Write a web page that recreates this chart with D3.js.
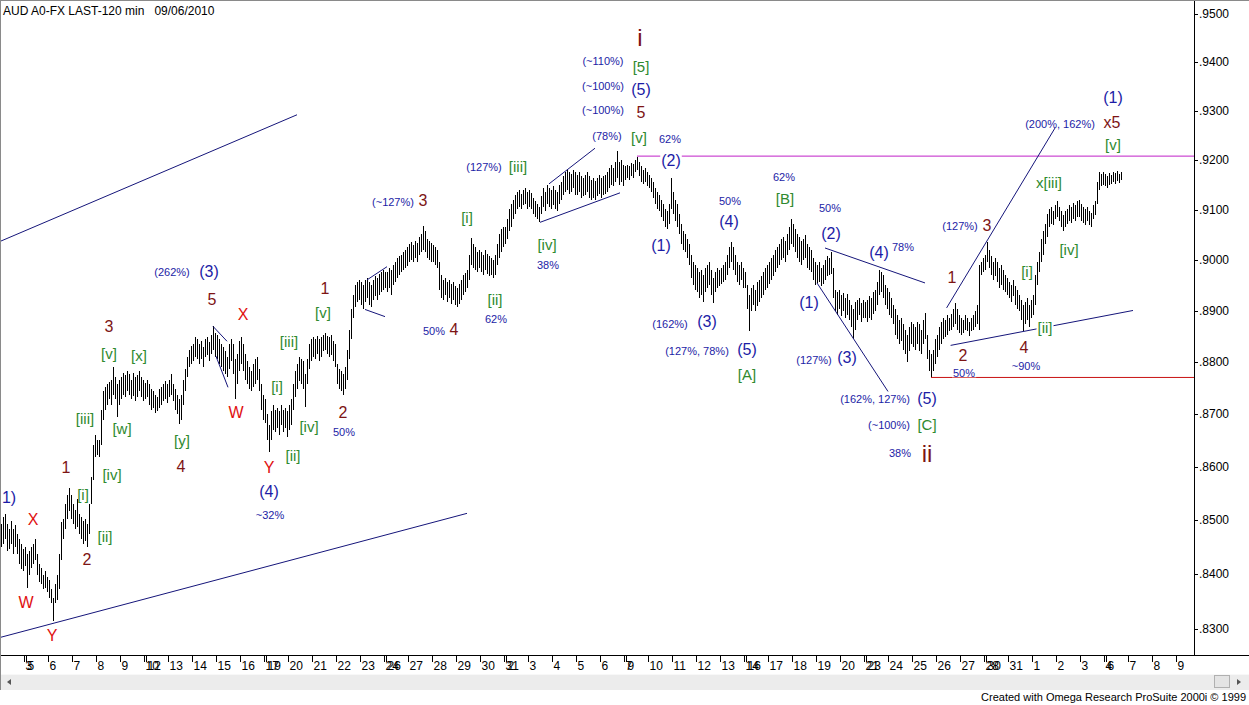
<!DOCTYPE html>
<html><head><meta charset="utf-8">
<script src="https://cdn.jsdelivr.net/npm/d3@7"></script>
<style>
body{margin:0;background:#fff;}
svg{display:block;font-family:"Liberation Sans",Arial,sans-serif;}
</style>
</head><body>
<svg id="c" width="1249" height="705"></svg>
<script>
// ---------- DATA (prices in pips, 1e-4) ----------
const title = "AUD A0-FX LAST-120 min   09/06/2010";
const footer = "Created with Omega Research ProSuite 2000i \u00A9 1999";

// 120-min bar highs, one per bar (Jul 2 .. Sep 6 2010)
const highs = [
8493,8506,8511,8493,8483,8498,8483,8491,8474,8465,8455,8446,
8450,
8437,8442,8450,8455,8466,8437,8418,8412,8399,8405,8394,
8390,8372,8357,8381,8399,8437,8496,8502,8530,8548,8560,8548,
8530,8520,8539,8511,8506,8498,8502,8493,8530,8582,8642,8661,
8651,8651,8709,8745,8752,8758,8762,8767,8791,8771,8758,8767,
8771,8779,8775,8783,8777,8767,8779,8771,8775,8783,8771,8767,
8760,
8767,8758,8748,8745,8738,8733,8748,8752,8758,8764,8758,
8767,8777,8758,8748,8738,8729,8738,8767,8787,8810,8825,8831,
8835,8850,8845,8835,8841,8829,8845,8849,8839,8854,8870,8858,
8854,8845,8835,8829,8822,8810,8835,8845,8835,8806,8816,8841,
8849,8835,8816,8802,8791,8783,8796,8806,8810,8787,8758,8738,
8729,
8700,8680,8706,8719,8709,8713,8706,8719,8709,8713,8706,
8719,8729,8758,8783,8796,8810,8806,8802,8777,8806,8835,8845,
8849,8845,8852,8845,8849,8854,8858,8852,8849,8854,8841,8835,
8796,8787,8783,8777,8791,8825,8863,8903,8931,8951,8957,8961,
8957,8951,8961,8965,8957,8951,8961,8969,8965,8973,8977,8981,
8977,
8977,8985,8981,8991,8997,9005,9009,9011,9017,9021,9025,
9031,9035,9029,9037,9033,9045,9051,9067,9057,9041,9037,9033,
9029,9025,9021,8997,8971,8961,8965,8957,8961,8953,8957,8949,
8945,8953,8961,8971,8975,8981,9011,9043,9031,9025,9017,9021,
9017,9011,9021,9013,9009,9005,9001,9011,9031,9051,9061,9065,
9065,
9081,9101,9111,9120,9130,9136,9140,9132,9140,9144,9136,
9140,9134,9124,9117,9111,9105,9128,9144,9136,9150,9144,9140,
9148,9140,9136,9150,9156,9168,9176,9180,9176,9172,9180,9176,
9170,9176,9168,9164,9170,9176,9168,9160,9164,9158,9164,9170,
9164,9168,9170,9176,9184,9190,9184,9196,9218,9196,9200,9190,
9188,
9190,9188,9194,9192,9200,9206,9196,9188,9180,9184,9176,
9170,9164,9156,9144,9136,9130,9120,9111,9101,9097,9111,9164,
9136,9120,9111,9091,9071,9057,9051,9041,9031,9011,8997,8991,
8985,8977,8981,8971,8985,8991,8997,8981,8965,8977,8985,8981,
8985,8991,8997,9011,9025,9035,9025,9011,8997,8991,8997,8985,
8977,
8951,8931,8945,8951,8941,8957,8961,8969,8977,8985,8991,
8997,9005,9011,9021,9025,9031,9041,9045,9037,9051,9065,9081,
9071,9061,9051,9045,9037,9041,9049,9031,9025,9021,9005,8997,
8991,8997,8985,8991,9001,9009,9005,9017,8985,8941,8937,8941,
8931,8935,8925,8933,8922,8912,8903,8918,8922,8925,8916,8922,
8918,
8922,8929,8925,8937,8941,8957,8981,8977,8971,8951,8945,
8937,8925,8912,8903,8893,8883,8887,8874,8863,8854,8868,8879,
8874,8868,8879,8874,8863,8883,8897,8854,8825,8816,8825,8845,
8854,8868,8879,8887,8883,8893,8887,8895,8903,8916,8903,8893,
8887,8883,8893,8887,8879,8887,8893,8899,8912,8991,8997,9005,
9011,
9035,9021,9009,8997,9005,8997,8985,8991,8981,8971,8965,
8957,8951,8961,8949,8941,8931,8922,8912,8918,8925,8912,8922,
8931,8971,8997,9017,9041,9057,9071,9091,9101,9105,9097,9109,
9117,9105,9097,9089,9097,9101,9109,9105,9113,9109,9117,9120,
9111,9105,9101,9105,9097,9093,9109,9117,9156,9176,9172,9176,
9172,
9168,9174,9170,9176,9174,9178,9172,9176
];

// 120-min bar lows, one per bar
const lows = [
8450,8455,8465,8442,8446,8455,8437,8450,8437,8418,8409,8405,
8416,
8375,8399,8412,8418,8427,8399,8386,8381,8372,8375,8368,
8357,8347,8314,8347,8353,8372,8427,8465,8483,8502,8517,8502,
8493,8483,8487,8474,8465,8455,8461,8450,8474,8530,8576,8619,
8623,8619,8642,8690,8709,8719,8729,8719,8738,8729,8696,8719,
8729,8738,8733,8745,8738,8729,8736,8725,8733,8745,8733,8725,
8729,
8733,8719,8709,8713,8702,8706,8713,8719,8725,8729,8721,
8733,8738,8725,8709,8700,8682,8690,8719,8745,8771,8791,8796,
8802,8810,8806,8796,8806,8791,8810,8814,8802,8816,8825,8810,
8806,8796,8791,8783,8777,8771,8787,8802,8777,8729,8758,8783,
8796,8783,8767,8758,8748,8745,8752,8758,8767,8745,8709,8690,
8684,
8651,8628,8651,8671,8667,8675,8661,8680,8667,8675,8657,
8671,8680,8709,8733,8748,8764,8758,8748,8715,8758,8787,8802,
8810,8806,8816,8802,8810,8822,8825,8816,8810,8814,8802,8791,
8758,8748,8745,8738,8748,8767,8806,8845,8887,8907,8918,8922,
8912,8903,8918,8925,8912,8907,8922,8929,8922,8931,8937,8941,
8945,
8937,8945,8931,8951,8957,8965,8971,8977,8981,8985,8989,
8997,9001,8997,9005,8997,9011,9017,9021,9017,9005,9001,8997,
8997,8991,8985,8941,8925,8922,8931,8918,8925,8914,8922,8912,
8907,8914,8922,8931,8937,8945,8961,8991,8985,8981,8977,8985,
8977,8971,8981,8973,8969,8971,8965,8971,8991,9005,9017,9025,
9031,
9041,9057,9065,9081,9091,9101,9105,9101,9109,9111,9101,
9105,9101,9091,9085,9081,9075,9091,9105,9097,9111,9105,9101,
9109,9101,9097,9111,9120,9130,9136,9140,9132,9136,9144,9130,
9130,9136,9124,9128,9130,9136,9124,9120,9124,9120,9128,9132,
9124,9130,9132,9136,9144,9150,9148,9156,9164,9150,9156,9148,
9160,
9164,9160,9168,9164,9176,9180,9168,9156,9152,9156,9148,
9144,9136,9124,9111,9101,9097,9085,9077,9065,9061,9071,9101,
9091,9077,9065,9051,9031,9021,9017,9005,8991,8965,8951,8941,
8937,8925,8931,8918,8937,8945,8951,8931,8916,8937,8945,8949,
8953,8957,8961,8971,8985,8997,8981,8971,8957,8951,8961,8945,
8945,
8903,8860,8899,8912,8899,8910,8918,8925,8931,8941,8945,
8953,8961,8969,8977,8985,8991,9001,9005,8997,9011,9021,9031,
9025,9017,9005,8997,8991,9001,9005,8985,8981,8977,8961,8951,
8955,8957,8949,8953,8961,8969,8971,8973,8925,8899,8893,8903,
8891,8899,8887,8893,8883,8868,8845,8863,8883,8893,8879,8887,
8887,
8879,8887,8883,8895,8899,8912,8931,8937,8925,8912,8903,
8893,8887,8874,8854,8845,8835,8841,8825,8816,8800,8822,8835,
8829,8825,8835,8822,8816,8835,8845,8806,8783,8771,8783,8796,
8810,8825,8835,8845,8849,8854,8860,8863,8868,8874,8863,8858,
8854,8858,8863,8860,8852,8860,8863,8868,8874,8863,8971,8977,
8981,
8997,8985,8971,8961,8969,8957,8945,8951,8941,8937,8931,
8925,8918,8929,8912,8903,8899,8883,8860,8874,8883,8868,8887,
8893,8912,8951,8977,8997,9011,9031,9045,9065,9071,9069,9081,
9085,9077,9065,9057,9065,9071,9077,9073,9081,9077,9085,9085,
9077,9073,9069,9077,9069,9065,9081,9089,9111,9140,9148,9150,
9148,
9144,9150,9152,9156,9152,9158,9154,9160
];

// x-axis day ticks: first bar index of each day, and its label
const tickBars = [12,13,24,36,48,60, 72,73,84,96,108,120, 132,133,144,156,168,180,
  192,193,204,216,228,240, 252,253,264,276,288,300, 312,313,324,336,348,360,
  372,373,384,396,408,420, 432,433,444,456,468,480, 492,493,504,516,528,540,
  552,553,564,576,588];
const tickLabels = ["3","5","6","7","8","9", "10","12","13","14","15","16", "17","19","20","21","22","23",
  "24","26","27","28","29","30", "31","2","3","4","5","6", "7","9","10","11","12","13",
  "14","16","17","18","19","20", "21","23","24","25","26","27", "28","30","31","1","2","3",
  "4","6","7","8","9"];

const priceTicks = [0.83,0.84,0.85,0.86,0.87,0.88,0.89,0.90,0.91,0.92,0.93,0.94,0.95];
const priceTickLabels = [".8300",".8400",".8500",".8600",".8700",".8800",".8900",".9000",".9100",".9200",".9300",".9400",".9500"];

// trend lines: [barA, priceA, barB, priceB, kind]
const trendLines = [
  [-0.5,9037,148,9292,"n"],
  [-0.5,8284,233,8513,"n"],
  [106,8870,113,8841,"n"],
  [107.5,8812,113.5,8752,"n"],
  [183,8961,193,8987,"n"],
  [182,8903,192,8889,"n"],
  [274,9152,297,9224,"n"],
  [269.5,9075,309.5,9134,"n"],
  [318,9208,597,9208,"m"],
  [465,8771,597,8771,"r"],
  [412,9024,462,8955,"n"],
  [408,8955,443.5,8744,"n"],
  [472.8,8906,527,9265,"n"],
  [474.8,8833,566,8901,"n"]
];

// wave labels: [bar, price, text, kind, whiteBackground]
const waveLabels = [
  [4,8543,"1)","b"],[16,8502,"X","R"],[12.5,8347,"W","R"],[25.5,8288,"Y","R"],
  [32.5,8600,"1","r"],[41,8548,"[i]","g"],[52,8470,"[ii]","g"],[43,8427,"2","r"],
  [42,8692,"[iii]","g"],[55.5,8586,"[iv]","g"],[54,8870,"3","r"],[54,8818,"[v]","g"],
  [60.5,8673,"[w]","g"],[69,8814,"[x]","g"],[90.5,8651,"[y]","g"],[90,8602,"4","r"],
  [85.5,8977,"(262%)","bs"],[104,8977,"(3)","b"],[105.5,8923,"5","r"],
  [121,8893,"X","R"],[117.5,8704,"W","R"],[134,8600,"Y","R"],[134,8554,"(4)","b"],
  [134.5,8509,"~32%","bs"],[138,8754,"[i]","g"],[146,8621,"[ii]","g"],[144,8841,"[iii]","g"],
  [154,8677,"[iv]","g"],[161,8897,"[v]","g"],[162,8945,"1","r"],[171,8704,"2","r"],
  [171.5,8667,"50%","bs"],[196,9115,"(~127%)","bs"],[211,9118,"3","r"],[233,9085,"[i]","g"],
  [216.5,8860,"50%","bs"],[226.5,8863,"4","r"],[247,8922,"[ii]","g"],[247.5,8885,"62%","bs"],
  [241.5,9186,"(127%)","bs"],[258.5,9188,"[iii]","g"],[273,9031,"[iv]","g"],[273.5,8991,"38%","bs"],
  [303,9249,"(78%)","bs"],[319,9245,"[v]","g"],[334.5,9243,"62%","bs"],[335,9200,"(2)","b",1],
  [301,9402,"(~110%)","bs"],[301,9351,"(~100%)","bs"],[301,9302,"(~100%)","bs"],
  [319.5,9452,"i","rb"],[320,9392,"[5]","g"],[320,9343,"(5)","b"],[320,9296,"5","r"],
  [330,9029,"(1)","b"],[364.5,9118,"50%","bs"],[364,9077,"(4)","b"],
  [334.5,8874,"(162%)","bs"],[353,8880,"(3)","b"],[348,8823,"(127%, 78%)","bs"],
  [373,8825,"(5)","b"],[373,8777,"[A]","g"],[391.5,9166,"62%","bs"],[392,9122,"[B]","g"],
  [414.5,9103,"50%","bs"],[415,9053,"(2)","b"],[439,9015,"(4)","b"],[451,9025,"78%","bs"],
  [404,8916,"(1)","b"],[406.5,8804,"(127%)","bs"],[423,8810,"(3)","b"],
  [437,8729,"(162%, 127%)","bs"],[463,8731,"(5)","b"],[444,8680,"(~100%)","bs"],
  [463,8680,"[C]","g"],[449.5,8626,"38%","bs"],[463,8626,"ii","rb"],
  [475.5,8965,"1","r"],[479.5,9067,"(127%)","bs"],[493,9069,"3","r"],[481,8814,"2","r"],
  [481.5,8779,"50%","bs",1],[513,8977,"[i]","g"],[522,8868,"[ii]","g",1],[511.5,8829,"4","r"],
  [512.5,8794,"~90%","bs"],[524,9154,"x[iii]","g"],[534,9021,"[iv]","g"],
  [529.5,9273,"(200%, 162%)","bs"],[556,9328,"(1)","b"],[555.5,9277,"x5","r"],[556,9231,"[v]","g"]
];

// ---------- STYLE ----------
const BLUE = "#1c1ca6", GREEN = "#2f8a2f", MAROON = "#7d1414", RED = "#e01010";
const kinds = {
  b:{size:16,color:BLUE}, bs:{size:11,color:BLUE}, g:{size:15,color:GREEN},
  r:{size:16,color:MAROON}, R:{size:16,color:RED}, rb:{size:24,color:MAROON}
};
const lineColors = {n:"#15157a", m:"#c020c8", r:"#c81010"};

// ---------- DRAW ----------
const svg = d3.select("#c");
const plotRight = 1194, plotBottom = 655;
const x = d3.scaleLinear().domain([0, 597]).range([0, plotRight]);
const y = d3.scaleLog().domain([0.83, 0.95]).range([628.7, 14]);
const P = v => v / 10000;

svg.append("rect").attr("width",1249).attr("height",705).attr("fill","#fff");

svg.append("defs").append("clipPath").attr("id","plot")
  .append("rect").attr("x",0).attr("y",0).attr("width",plotRight).attr("height",plotBottom);

const plot = svg.append("g").attr("clip-path","url(#plot)");

// bars
const n = Math.min(highs.length, lows.length);
const bars = d3.range(n).map(i => ({i, h:P(highs[i]), l:P(lows[i])}));
plot.append("g").attr("stroke","#000").attr("stroke-width",1).attr("shape-rendering","crispEdges")
  .selectAll("line").data(bars).join("line")
  .attr("x1",d=>Math.round(x(d.i+0.5))+0.5).attr("x2",d=>Math.round(x(d.i+0.5))+0.5)
  .attr("y1",d=>y(d.h)).attr("y2",d=>Math.max(y(d.l), y(d.h)+1));

// trend lines
plot.append("g").selectAll("line").data(trendLines).join("line")
  .attr("x1",d=>x(d[0]+0.5)).attr("y1",d=>y(P(d[1])))
  .attr("x2",d=>x(d[2]+0.5)).attr("y2",d=>y(P(d[3])))
  .attr("stroke",d=>lineColors[d[4]]).attr("stroke-width",1);

// labels
const lg = plot.append("g");
waveLabels.forEach(d => {
  const k = kinds[d[3]];
  const g = lg.append("g");
  const t = g.append("text")
    .attr("x", x(d[0]+0.5)).attr("y", y(P(d[1])))
    .attr("text-anchor","middle").attr("dominant-baseline","central")
    .attr("font-size",k.size).attr("fill",k.color)
    .style("white-space","pre")
    .text(d[2]);
  if (d[4]) {
    const b = t.node().getBBox();
    g.insert("rect","text").attr("x",b.x-1).attr("y",b.y+2).attr("width",b.width+2).attr("height",b.height-4).attr("fill","#fff");
  }
});

// axes
svg.append("line").attr("x1",0).attr("x2",1249).attr("y1",plotBottom+0.5).attr("y2",plotBottom+0.5).attr("stroke","#000");
svg.append("line").attr("x1",plotRight+0.5).attr("x2",plotRight+0.5).attr("y1",0).attr("y2",plotBottom).attr("stroke","#000");

const yt = svg.append("g");
priceTicks.forEach((p,j) => {
  yt.append("line").attr("x1",plotRight).attr("x2",plotRight+4).attr("y1",Math.round(y(p))+0.5).attr("y2",Math.round(y(p))+0.5).attr("stroke","#000");
  yt.append("text").attr("x",plotRight+5).attr("y",y(p)).attr("dominant-baseline","central")
    .attr("font-size",12).attr("fill","#000").text(priceTickLabels[j]);
});

const xt = svg.append("g");
tickBars.forEach((b,j) => {
  const px = Math.round(x(b))+0.5;
  xt.append("line").attr("x1",px).attr("x2",px).attr("y1",plotBottom).attr("y2",plotBottom+7).attr("stroke","#000");
  xt.append("text").attr("x",px+1).attr("y",plotBottom+14.5).attr("font-size",12).attr("fill","#000").text(tickLabels[j]);
});

// title
svg.append("text").attr("x",3).attr("y",15).attr("font-size",12).attr("fill","#000")
  .style("white-space","pre").text(title);

// frame
svg.append("line").attr("x1",0.5).attr("x2",0.5).attr("y1",0).attr("y2",690).attr("stroke","#8a8a8a");
svg.append("line").attr("x1",0).attr("x2",1249).attr("y1",0.5).attr("y2",0.5).attr("stroke","#8a8a8a");

// scrollbar
svg.append("rect").attr("x",1).attr("y",674).attr("width",1248).attr("height",16).attr("fill","#ececec");
svg.append("line").attr("x1",1).attr("x2",1249).attr("y1",674.5).attr("y2",674.5).attr("stroke","#f8f8f8");
svg.append("path").attr("d","M7,682 L11,679 L11,685 Z").attr("fill","#555");
svg.append("rect").attr("x",1214.5).attr("y",675.5).attr("width",15).attr("height",12).attr("fill","#e4e4e4").attr("stroke","#b0b0b0");
svg.append("path").attr("d","M1237,679 L1241,682 L1237,685 Z").attr("fill","#555");

// footer
svg.append("text").attr("x",1246).attr("y",701).attr("text-anchor","end").attr("font-size",11).attr("fill","#000").text(footer);
</script>
</body></html>
